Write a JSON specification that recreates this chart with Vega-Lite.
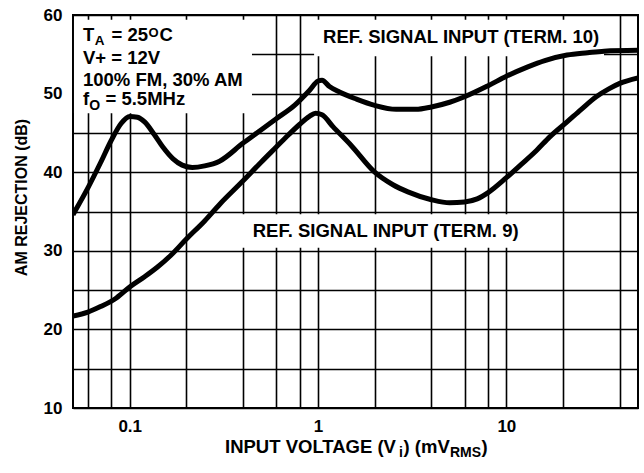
{
  "$schema": "https://vega.github.io/schema/vega-lite/v6.json",
  "width": 565,
  "height": 393,
  "autosize": "none",
  "padding": {"left": 73, "top": 15, "right": 6, "bottom": 65},
  "background": "white",
  "config": {"view": {"stroke": "black", "strokeWidth": 2}},
  "datasets": {
    "curves": [
      {"series": "t10", "v": 0.05, "db": 34.6},
      {"series": "t10", "v": 0.06, "db": 38.0},
      {"series": "t10", "v": 0.07, "db": 41.2},
      {"series": "t10", "v": 0.08, "db": 44.1},
      {"series": "t10", "v": 0.09, "db": 46.2},
      {"series": "t10", "v": 0.1, "db": 47.1},
      {"series": "t10", "v": 0.11, "db": 47.0},
      {"series": "t10", "v": 0.12, "db": 46.4},
      {"series": "t10", "v": 0.135, "db": 44.8},
      {"series": "t10", "v": 0.15, "db": 43.2},
      {"series": "t10", "v": 0.17, "db": 41.7},
      {"series": "t10", "v": 0.19, "db": 40.9},
      {"series": "t10", "v": 0.215, "db": 40.6},
      {"series": "t10", "v": 0.25, "db": 40.8},
      {"series": "t10", "v": 0.3, "db": 41.4},
      {"series": "t10", "v": 0.4, "db": 43.7},
      {"series": "t10", "v": 0.5, "db": 45.4},
      {"series": "t10", "v": 0.6, "db": 46.8},
      {"series": "t10", "v": 0.75, "db": 48.5},
      {"series": "t10", "v": 0.9, "db": 50.4},
      {"series": "t10", "v": 1.0, "db": 51.6},
      {"series": "t10", "v": 1.05, "db": 51.7},
      {"series": "t10", "v": 1.15, "db": 50.9},
      {"series": "t10", "v": 1.3, "db": 50.2},
      {"series": "t10", "v": 1.6, "db": 49.3},
      {"series": "t10", "v": 2.0, "db": 48.5},
      {"series": "t10", "v": 2.6, "db": 48.0},
      {"series": "t10", "v": 3.3, "db": 48.0},
      {"series": "t10", "v": 4.0, "db": 48.3},
      {"series": "t10", "v": 5.0, "db": 48.9},
      {"series": "t10", "v": 6.0, "db": 49.6},
      {"series": "t10", "v": 8.0, "db": 51.0},
      {"series": "t10", "v": 10, "db": 52.2},
      {"series": "t10", "v": 13, "db": 53.4},
      {"series": "t10", "v": 16, "db": 54.2},
      {"series": "t10", "v": 21, "db": 54.9},
      {"series": "t10", "v": 27, "db": 55.2},
      {"series": "t10", "v": 33, "db": 55.4},
      {"series": "t10", "v": 50, "db": 55.5},
      {"series": "t9", "v": 0.05, "db": 21.7},
      {"series": "t9", "v": 0.06, "db": 22.2},
      {"series": "t9", "v": 0.07, "db": 22.9},
      {"series": "t9", "v": 0.085, "db": 24.0},
      {"series": "t9", "v": 0.1, "db": 25.4},
      {"series": "t9", "v": 0.12, "db": 26.7},
      {"series": "t9", "v": 0.14, "db": 27.9},
      {"series": "t9", "v": 0.165, "db": 29.4},
      {"series": "t9", "v": 0.2, "db": 31.5},
      {"series": "t9", "v": 0.25, "db": 33.8},
      {"series": "t9", "v": 0.3, "db": 35.9},
      {"series": "t9", "v": 0.4, "db": 38.9},
      {"series": "t9", "v": 0.5, "db": 41.3},
      {"series": "t9", "v": 0.6, "db": 43.2},
      {"series": "t9", "v": 0.7, "db": 44.8},
      {"series": "t9", "v": 0.8, "db": 46.1},
      {"series": "t9", "v": 0.9, "db": 47.1},
      {"series": "t9", "v": 0.97, "db": 47.5},
      {"series": "t9", "v": 1.05, "db": 47.3},
      {"series": "t9", "v": 1.2, "db": 45.8},
      {"series": "t9", "v": 1.5, "db": 43.4},
      {"series": "t9", "v": 2.0, "db": 40.0},
      {"series": "t9", "v": 2.5, "db": 38.4},
      {"series": "t9", "v": 3.0, "db": 37.5},
      {"series": "t9", "v": 4.0, "db": 36.5},
      {"series": "t9", "v": 5.0, "db": 36.1},
      {"series": "t9", "v": 6.0, "db": 36.2},
      {"series": "t9", "v": 7.0, "db": 36.6},
      {"series": "t9", "v": 8.0, "db": 37.4},
      {"series": "t9", "v": 10, "db": 39.3},
      {"series": "t9", "v": 12, "db": 41.0},
      {"series": "t9", "v": 14.5, "db": 42.8},
      {"series": "t9", "v": 17, "db": 44.5},
      {"series": "t9", "v": 21, "db": 46.4},
      {"series": "t9", "v": 25, "db": 48.0},
      {"series": "t9", "v": 30, "db": 49.6},
      {"series": "t9", "v": 35, "db": 50.6},
      {"series": "t9", "v": 40, "db": 51.3},
      {"series": "t9", "v": 50, "db": 52.0}
    ],
    "boxes": [
      {"v": 0.0506, "v2": 0.446, "db": 47.5, "db2": 59.4},
      {"v": 0.953, "v2": 33, "db": 54.75, "db2": 59.4},
      {"v": 0.376, "v2": 14.2, "db": 30.4, "db2": 34.65}
    ],
    "notes": [
      {"k": "a0", "text": "T", "v": 0.0565, "db": 56.69},
      {"k": "a0", "text": "V+ = 12V", "v": 0.0565, "db": 53.72},
      {"k": "a0", "text": "100% FM, 30% AM", "v": 0.0565, "db": 50.97},
      {"k": "a0", "text": "f", "v": 0.0565, "db": 48.49},
      {"k": "a0", "text": "REF. SIGNAL INPUT (TERM. 10)", "v": 1.063, "db": 56.4},
      {"k": "a0", "text": "REF. SIGNAL INPUT (TERM. 9)", "v": 0.45, "db": 31.8},
      {"k": "subA", "text": "A", "v": 0.0565, "db": 56.69},
      {"k": "eq1", "text": "= 25", "v": 0.0565, "db": 56.69},
      {"k": "supO", "text": "O", "v": 0.0565, "db": 56.69},
      {"k": "c1", "text": "C", "v": 0.0565, "db": 56.69},
      {"k": "subO", "text": "O", "v": 0.0565, "db": 48.49},
      {"k": "eq4", "text": "= 5.5MHz", "v": 0.0565, "db": 48.49},
      {"k": "xt0", "text": "INPUT VOLTAGE (V", "v": 0.3207, "db": 10},
      {"k": "xt1", "text": "i", "v": 0.3207, "db": 10},
      {"k": "xt2", "text": ") (mV", "v": 0.3207, "db": 10},
      {"k": "xt3", "text": "RMS", "v": 0.3207, "db": 10},
      {"k": "xt4", "text": ")", "v": 0.3207, "db": 10}
    ]
  },
  "encoding": {
    "x": {
      "field": "v",
      "type": "quantitative",
      "scale": {"type": "log", "domain": [0.05, 50], "nice": false},
      "axis": {
        "values": [0.06, 0.08, 0.1, 0.2, 0.4, 0.6, 0.8, 1, 2, 4, 6, 8, 10, 20, 40],
        "labelExpr": "datum.value == 0.1 ? '0.1' : datum.value == 1 ? '1' : datum.value == 10 ? '10' : ''",
        "grid": true,
        "gridColor": "black",
        "gridWidth": 1.6,
        "gridOpacity": 1,
        "ticks": false,
        "domain": false,
        "labelFont": "Liberation Sans",
        "labelFontWeight": "bold",
        "labelFontSize": 17,
        "labelColor": "black",
        "labelPadding": 10,
        "labelFlush": false,
        "labelOverlap": false,
        "title": null
      }
    },
    "y": {
      "field": "db",
      "type": "quantitative",
      "scale": {"domain": [10, 60], "nice": false, "zero": false},
      "axis": {
        "values": [10, 15, 20, 25, 30, 35, 40, 45, 50, 55, 60],
        "labelExpr": "datum.value % 10 == 0 ? datum.label : ''",
        "grid": true,
        "gridColor": "black",
        "gridWidth": 1.6,
        "gridOpacity": 1,
        "ticks": false,
        "domain": false,
        "labelFont": "Liberation Sans",
        "labelFontWeight": "bold",
        "labelFontSize": 17,
        "labelColor": "black",
        "labelPadding": 11,
        "labelFlush": false,
        "labelOverlap": false,
        "title": "AM REJECTION (dB)",
        "titleFont": "Liberation Sans",
        "titleFontWeight": "bold",
        "titleFontSize": 16,
        "titleColor": "black",
        "titlePadding": 14,
        "titleY": 182
      }
    }
  },
  "layer": [
    {
      "data": {"name": "boxes"},
      "mark": {"type": "rect", "fill": "white", "strokeWidth": 0},
      "encoding": {"x2": {"field": "v2"}, "y2": {"field": "db2"}}
    },
    {
      "data": {"name": "curves"},
      "mark": {"type": "line", "color": "black", "strokeWidth": 5, "interpolate": "monotone", "clip": true},
      "encoding": {"detail": {"field": "series"}}
    },
    {
      "data": {"name": "notes"},
      "transform": [{"filter": "datum.k == 'a0'"}],
      "mark": {"type": "text", "align": "left", "baseline": "alphabetic", "font": "Liberation Sans", "fontWeight": "bold", "fontSize": 18.5, "color": "black"},
      "encoding": {"text": {"field": "text"}}
    },
    {
      "data": {"name": "notes"},
      "transform": [{"filter": "datum.k == 'subA'"}],
      "mark": {"type": "text", "align": "left", "baseline": "alphabetic", "font": "Liberation Sans", "fontWeight": "bold", "fontSize": 13.5, "color": "black", "dx": 11.8, "dy": 4},
      "encoding": {"text": {"field": "text"}}
    },
    {
      "data": {"name": "notes"},
      "transform": [{"filter": "datum.k == 'eq1'"}],
      "mark": {"type": "text", "align": "left", "baseline": "alphabetic", "font": "Liberation Sans", "fontWeight": "bold", "fontSize": 18.5, "color": "black", "dx": 28.5},
      "encoding": {"text": {"field": "text"}}
    },
    {
      "data": {"name": "notes"},
      "transform": [{"filter": "datum.k == 'supO'"}],
      "mark": {"type": "text", "align": "left", "baseline": "alphabetic", "font": "Liberation Sans", "fontWeight": "bold", "fontSize": 13, "color": "black", "dx": 65.5, "dy": -4.5},
      "encoding": {"text": {"field": "text"}}
    },
    {
      "data": {"name": "notes"},
      "transform": [{"filter": "datum.k == 'c1'"}],
      "mark": {"type": "text", "align": "left", "baseline": "alphabetic", "font": "Liberation Sans", "fontWeight": "bold", "fontSize": 18.5, "color": "black", "dx": 76.5},
      "encoding": {"text": {"field": "text"}}
    },
    {
      "data": {"name": "notes"},
      "transform": [{"filter": "datum.k == 'subO'"}],
      "mark": {"type": "text", "align": "left", "baseline": "alphabetic", "font": "Liberation Sans", "fontWeight": "bold", "fontSize": 14, "color": "black", "dx": 6.2, "dy": 4.5},
      "encoding": {"text": {"field": "text"}}
    },
    {
      "data": {"name": "notes"},
      "transform": [{"filter": "datum.k == 'eq4'"}],
      "mark": {"type": "text", "align": "left", "baseline": "alphabetic", "font": "Liberation Sans", "fontWeight": "bold", "fontSize": 18.5, "color": "black", "dx": 22.5},
      "encoding": {"text": {"field": "text"}}
    },
    {
      "data": {"name": "notes"},
      "transform": [{"filter": "datum.k == 'xt0'"}],
      "mark": {"type": "text", "align": "left", "baseline": "alphabetic", "font": "Liberation Sans", "fontWeight": "bold", "fontSize": 18.5, "color": "black", "dx": 0, "dy": 45},
      "encoding": {"text": {"field": "text"}}
    },
    {
      "data": {"name": "notes"},
      "transform": [{"filter": "datum.k == 'xt1'"}],
      "mark": {"type": "text", "align": "left", "baseline": "alphabetic", "font": "Liberation Sans", "fontWeight": "bold", "fontSize": 14, "color": "black", "dx": 174, "dy": 49},
      "encoding": {"text": {"field": "text"}}
    },
    {
      "data": {"name": "notes"},
      "transform": [{"filter": "datum.k == 'xt2'"}],
      "mark": {"type": "text", "align": "left", "baseline": "alphabetic", "font": "Liberation Sans", "fontWeight": "bold", "fontSize": 18.5, "color": "black", "dx": 178.5, "dy": 45},
      "encoding": {"text": {"field": "text"}}
    },
    {
      "data": {"name": "notes"},
      "transform": [{"filter": "datum.k == 'xt3'"}],
      "mark": {"type": "text", "align": "left", "baseline": "alphabetic", "font": "Liberation Sans", "fontWeight": "bold", "fontSize": 14, "color": "black", "dx": 225, "dy": 49},
      "encoding": {"text": {"field": "text"}}
    },
    {
      "data": {"name": "notes"},
      "transform": [{"filter": "datum.k == 'xt4'"}],
      "mark": {"type": "text", "align": "left", "baseline": "alphabetic", "font": "Liberation Sans", "fontWeight": "bold", "fontSize": 18.5, "color": "black", "dx": 256.5, "dy": 45},
      "encoding": {"text": {"field": "text"}}
    }
  ]
}
